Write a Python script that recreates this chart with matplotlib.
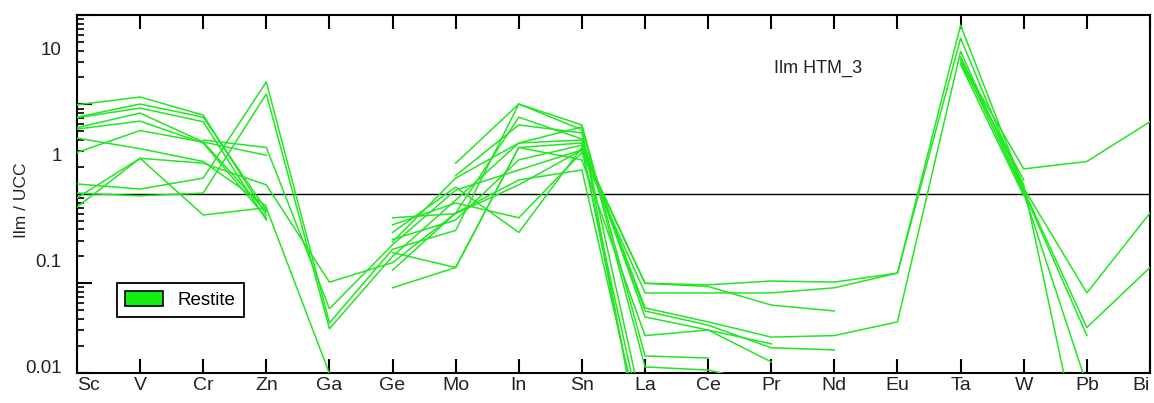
import numpy as np
import matplotlib.pyplot as plt
from matplotlib.patches import Patch
from matplotlib.ticker import LogLocator, NullFormatter, NullLocator, FixedLocator, FixedFormatter

plt.rcParams['font.family'] = ['Liberation Sans', 'DejaVu Sans']

# ---- data: Ilm / UCC (restite samples) ----
elements = ['Sc', 'V', 'Cr', 'Zn', 'Ga', 'Ge', 'Mo', 'In', 'Sn',
            'La', 'Ce', 'Pr', 'Nd', 'Eu', 'Ta', 'W', 'Pb', 'Bi']
n = np.nan
s01 = [9.9, 12.1, 7.6, 0.58, n, 0.54, 0.60, 1.26, 3.1, 0.10, 0.096, 0.106, 0.103, 0.13, 77, 1.16, 0.078, 0.61]
s02 = [7.2, 10.1, 7.2, 0.66, n, 0.45, 0.79, 0.54, 2.9, 0.078, 0.078, 0.078, 0.089, 0.13, 55, 1.10, 0.032, 0.15]
s03 = [7.1, 9.1, 6.4, 0.51, n, 0.37, 1.19, 0.37, 3.3, 0.10, 0.092, 0.057, 0.049, n, n, n, n, n]
s04 = [5.5, 8.0, 3.8, 0.63, n, 0.29, 1.5, 3.7, 4.0, 0.053, 0.037, 0.025, 0.026, 0.037, 39, 1.05, 0.026, n]
s05 = [5.3, 6.5, 3.7, 0.54, n, 0.22, 0.15, 3.3, 3.7, 0.049, 0.034, 0.019, 0.018, n, 34, 1.26, 0.0006, n]
s06 = [4.2, 3.2, 2.3, 0.73, n, 0.14, 0.61, 7.2, 4.1, 0.042, 0.030, 0.0132, n, n, 32, 1.02, 0.0073, n]
s07 = [2.9, 5.1, 3.8, 2.7, n, 0.089, 0.15, 3.3, 2.4, 0.026, 0.030, 0.021, n, n, 31, 1.9, 2.3, 6.4]
s08 = [1.29, 1.13, 1.5, 17.9, 0.036, 0.24, 0.39, 10.1, 5.9, 0.0154, 0.0146, n, n, n, 29, 1.43, n, n]
s09 = [1.02, 0.95, 1.02, 13.1, 0.031, 0.20, 0.85, 3.7, 5.6, 0.0116, 0.0107, 0.0075, n, n, n, n, n, n]
s10 = [0.71, 2.5, 2.2, 1.26, 0.103, 0.17, 0.61, 1.43, 1.85, 0.0015, n, n, n, n, 28, 0.95, n, n]
s11 = [0.90, 2.5, 0.58, 0.70, 0.0098, n, 2.2, 10.1, 5.2, 0.0008, n, n, n, n, n, n, n, n]
s12 = [n, n, 4.0, 3.3, 0.052, 0.27, 1.1, 1.85, 3.1, 0.002, n, n, n, n, n, n, n, n]
s13 = [n, n, n, n, n, 0.31, 0.51, 2.4, 3.5, 0.001, n, n, n, n, n, n, n, n]
s14 = [n, n, n, n, n, n, 1.6, 5.9, 4.8, 0.003, n, n, n, n, n, n, n, n]
samples = [s01, s02, s03, s04, s05, s06, s07, s08, s09, s10, s11, s12, s13, s14]

line_green = '#22e622'
x = np.arange(len(elements))

fig = plt.figure(figsize=(11.54, 4.03), dpi=100)
ax = fig.add_axes([0.0667, 0.0752, 0.9298, 0.8876])

for s in samples:
    ax.plot(x, s, color=line_green, lw=1.1, zorder=3)

# reference line at 1
ax.axhline(1, color='black', lw=1.0, zorder=2)

ax.set_yscale('log')
ax.set_ylim(0.01, 100)
ax.set_xlim(0, len(elements) - 1)

ax.set_xticks(x)
ax.set_xticklabels(elements, fontsize=14, color='#222222')
ax.get_xticklabels()[0].set_horizontalalignment('left')
ax.get_xticklabels()[-1].set_horizontalalignment('right')
ax.tick_params(axis='x', direction='in', length=10, width=1.5, top=True, bottom=True, pad=3)
ax.yaxis.set_major_locator(LogLocator(base=10, numticks=10))
ax.yaxis.set_minor_locator(LogLocator(base=10, subs=np.arange(2, 10), numticks=10))
ax.yaxis.set_major_formatter(NullFormatter())
ax.yaxis.set_minor_formatter(NullFormatter())
ax.tick_params(axis='y', which='major', direction='in', length=11, width=1.5, left=True, right=True)
ax.tick_params(axis='y', which='minor', direction='in', length=5, width=1.2, left=True, right=True)
for sp in ax.spines.values():
    sp.set_linewidth(1.5)

ax.set_ylabel('Ilm / UCC', fontsize=12.5, color='#222222')
ax.yaxis.set_label_coords(-0.045, 0.483)

# y value labels as printed on the original figure
ax2 = ax.twinx()
ax2.set_yscale('log')
ax2.set_ylim(0.00883, 20.9)
ax2.yaxis.set_major_locator(FixedLocator([0.01, 0.1, 1, 10]))
ax2.yaxis.set_major_formatter(FixedFormatter(['0.01', '0.1', '1', '10']))
ax2.yaxis.set_minor_locator(NullLocator())
ax2.tick_params(axis='y', which='both', length=0, left=True, right=False,
                labelleft=True, labelright=False, labelsize=13.5, labelcolor='#222222', pad=11)
for sp in ax2.spines.values():
    sp.set_visible(False)

ax.text(0.65, 0.852, 'Ilm HTM_3', transform=ax.transAxes, fontsize=13,
        color='#222222', va='center', ha='left')

handle = Patch(facecolor='#11ee11', edgecolor='black', linewidth=1.2)
leg = ax.legend([handle], ['Restite'], loc='upper left', bbox_to_anchor=(0.037, 0.251),
                borderaxespad=0, fancybox=False, framealpha=1, edgecolor='black',
                fontsize=13.5, handlelength=2.0, handleheight=0.8, borderpad=0.45)
leg.get_frame().set_linewidth(1.3)
leg.set_zorder(5)

fig.savefig('out.png', dpi=100)
